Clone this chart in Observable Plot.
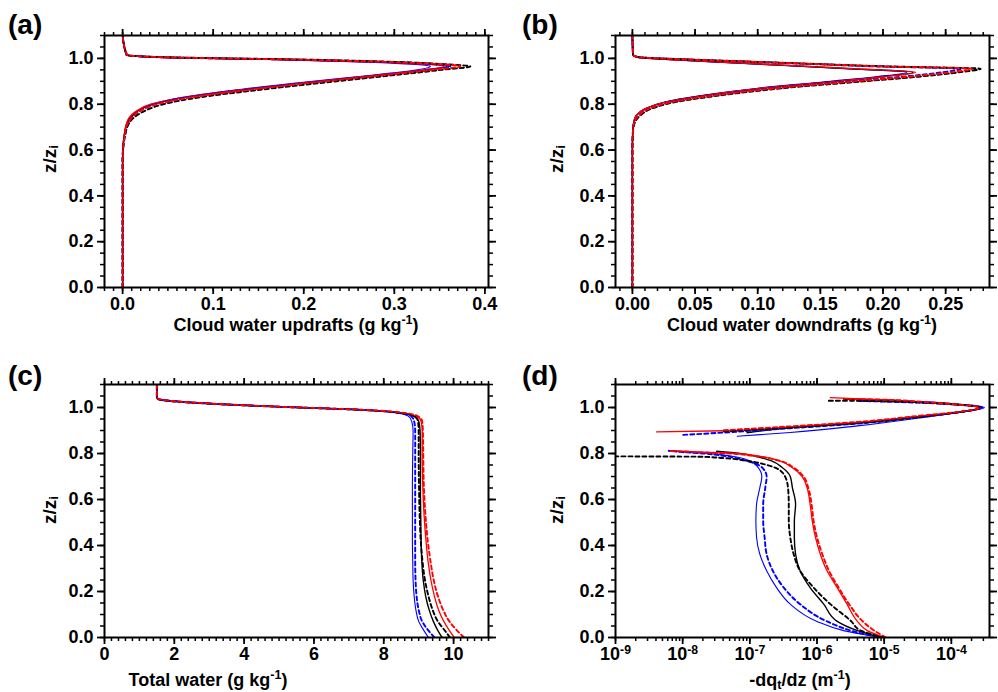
<!DOCTYPE html>
<html><head><meta charset="utf-8">
<script src="https://cdn.jsdelivr.net/npm/d3@7"></script>
<script src="https://cdn.jsdelivr.net/npm/@observablehq/plot@0.6"></script>
<style>
body{margin:0;background:#fff;}
#chart{position:relative;width:998px;height:692px;overflow:hidden;background:#fff;font-family:"Liberation Sans",Arial,Helvetica,sans-serif;font-weight:bold;color:#000;}
#chart svg{position:absolute;left:0;top:0;}
.lbl{position:absolute;white-space:nowrap;font-weight:bold;line-height:1;}
.xl{font-size:18px;transform:translateX(-50%);}
.yl{font-size:19px;transform:translate(-50%,-50%) rotate(-90deg);}
.pl{font-size:28px;}
sup,sub{font-size:70%;line-height:0;}
sup{vertical-align:0.55em;}
sub{vertical-align:-0.2em;}
</style></head>
<body><div id="chart"></div>
<script>
// ---------- Panel (a): cloud water updrafts ----------
const zA = [0, 0.55, 0.62, 0.67, 0.71, 0.74, 0.77, 0.80, 0.83, 0.86, 0.89, 0.92, 0.95, 0.965, 0.975, 0.985, 0.995, 1.005, 1.015, 1.1];
const aBlackSolid = [0, 0, 0.0005, 0.002, 0.004, 0.008, 0.016, 0.033, 0.07, 0.126, 0.193, 0.266, 0.335, 0.358, 0.335, 0.275, 0.175, 0.04, 0.004, 0];
const aBlackDash  = [0, 0, 0.001, 0.003, 0.006, 0.012, 0.024, 0.045, 0.085, 0.145, 0.212, 0.283, 0.352, 0.384, 0.355, 0.30, 0.2, 0.05, 0.005, 0];
const aRedSolid   = [0, 0, 0.0005, 0.002, 0.004, 0.007, 0.015, 0.031, 0.068, 0.124, 0.19, 0.263, 0.332, 0.355, 0.33, 0.27, 0.17, 0.035, 0.004, 0];
const aRedDash    = [0, 0, 0.0008, 0.0025, 0.005, 0.01, 0.019, 0.038, 0.076, 0.134, 0.2, 0.272, 0.342, 0.373, 0.35, 0.29, 0.19, 0.045, 0.005, 0];
const aBlueSolid  = [0, 0, 0.0005, 0.002, 0.005, 0.009, 0.017, 0.032, 0.066, 0.12, 0.186, 0.258, 0.325, 0.34, 0.318, 0.262, 0.165, 0.035, 0.004, 0];
const aBlueDash   = [0, 0, 0.0008, 0.003, 0.006, 0.01, 0.019, 0.036, 0.072, 0.13, 0.196, 0.27, 0.34, 0.362, 0.345, 0.285, 0.185, 0.045, 0.005, 0];

// ---------- Panel (b): cloud water downdrafts ----------
const zB = [0, 0.6, 0.68, 0.72, 0.75, 0.78, 0.81, 0.84, 0.87, 0.90, 0.92, 0.94, 0.955, 0.965, 0.975, 0.985, 0.995, 1.005, 1.015, 1.1];
const bBlackSolid = [0, 0, 0.0002, 0.001, 0.003, 0.01, 0.027, 0.06, 0.104, 0.163, 0.199, 0.224, 0.175, 0.14, 0.102, 0.065, 0.029, 0.004, 0.0003, 0];
const bBlackDash  = [0, 0, 0.0005, 0.002, 0.006, 0.015, 0.035, 0.072, 0.12, 0.185, 0.228, 0.262, 0.278, 0.205, 0.152, 0.1, 0.047, 0.006, 0.0005, 0];
const bRedSolid   = [0, 0, 0.0002, 0.001, 0.003, 0.01, 0.027, 0.06, 0.103, 0.163, 0.2, 0.226, 0.175, 0.14, 0.103, 0.066, 0.03, 0.004, 0.0003, 0];
const bRedDash    = [0, 0, 0.0004, 0.0015, 0.005, 0.013, 0.032, 0.068, 0.115, 0.178, 0.22, 0.255, 0.271, 0.2, 0.148, 0.097, 0.045, 0.006, 0.0005, 0];
const bBlueSolid  = [0, 0, 0.0002, 0.001, 0.003, 0.01, 0.026, 0.058, 0.1, 0.158, 0.194, 0.219, 0.17, 0.136, 0.1, 0.064, 0.029, 0.004, 0.0003, 0];
const bBlueDash   = [0, 0, 0.0004, 0.0015, 0.005, 0.013, 0.031, 0.066, 0.112, 0.174, 0.215, 0.248, 0.262, 0.195, 0.145, 0.095, 0.044, 0.006, 0.0005, 0];

// ---------- Panel (c): total water ----------
const zC = [0, 0.03, 0.07, 0.12, 0.18, 0.25, 0.33, 0.42, 0.52, 0.65, 0.8, 0.9, 0.94, 0.96, 0.975, 0.99, 1.0, 1.01, 1.025, 1.037, 1.045, 1.1];
const cBlackSolid = [9.67, 9.55, 9.42, 9.3, 9.2, 9.13, 9.09, 9.07, 9.06, 9.05, 9.05, 9.04, 9.0, 8.88, 8.55, 7.4, 5.6, 4.0, 2.2, 1.55, 1.5, 1.5];
const cBlackDash  = [9.9, 9.75, 9.55, 9.4, 9.28, 9.18, 9.11, 9.06, 9.03, 9.01, 9.0, 9.0, 8.98, 8.9, 8.55, 7.3, 5.5, 3.9, 2.1, 1.52, 1.5, 1.5];
const cRedSolid   = [10.02, 9.88, 9.72, 9.57, 9.45, 9.35, 9.27, 9.21, 9.16, 9.12, 9.1, 9.1, 9.07, 8.95, 8.6, 7.4, 5.6, 4.0, 2.2, 1.55, 1.5, 1.5];
const cRedDash    = [10.3, 10.1, 9.88, 9.7, 9.55, 9.43, 9.34, 9.26, 9.2, 9.15, 9.13, 9.12, 9.1, 9.0, 8.65, 7.4, 5.6, 4.0, 2.2, 1.55, 1.5, 1.5];
const cBlueSolid  = [9.28, 9.15, 9.0, 8.92, 8.87, 8.84, 8.83, 8.82, 8.82, 8.82, 8.83, 8.84, 8.8, 8.72, 8.45, 7.4, 5.6, 4.0, 2.2, 1.55, 1.5, 1.5];
const cBlueDash   = [9.45, 9.28, 9.1, 9.0, 8.94, 8.91, 8.9, 8.9, 8.9, 8.9, 8.9, 8.9, 8.87, 8.8, 8.5, 7.35, 5.55, 3.95, 2.15, 1.52, 1.5, 1.5];

// ---------- Panel (d): -dq_t/dz, pairs [z/zi, value] ----------
const dBlackSolidLow = [[0,8.9e-6],[0.03,4.0e-6],[0.07,2.0e-6],[0.145,1.26e-6],[0.217,7.9e-7],[0.29,5.6e-7],[0.362,4.8e-7],[0.435,4.6e-7],[0.507,4.6e-7],[0.58,4.8e-7],[0.652,4.3e-7],[0.70,4.0e-7],[0.74,3.0e-7],[0.768,2.1e-7],[0.79,1.12e-7],[0.80,7.1e-8],[0.81,3.2e-8]];
const dBlackDashLow  = [[0,1.0e-5],[0.015,6.3e-6],[0.03,4.5e-6],[0.072,3.2e-6],[0.145,1.58e-6],[0.217,8.9e-7],[0.29,5.6e-7],[0.362,4.5e-7],[0.435,4.0e-7],[0.507,3.8e-7],[0.58,3.8e-7],[0.652,3.7e-7],[0.71,3.2e-7],[0.746,2.0e-7],[0.768,9.1e-8],[0.78,4.1e-8],[0.786,1.8e-8],[0.7875,1.0e-9]];
const dRedSolidLow   = [[0,1.0e-5],[0.03,5.6e-6],[0.07,4.0e-6],[0.145,2.8e-6],[0.217,2.0e-6],[0.29,1.41e-6],[0.362,1.12e-6],[0.435,9.5e-7],[0.507,8.5e-7],[0.58,7.9e-7],[0.652,7.1e-7],[0.70,6.0e-7],[0.74,4.2e-7],[0.768,2.8e-7],[0.79,1.26e-7],[0.80,6.5e-8],[0.806,2.0e-8],[0.812,6.2e-9]];
const dRedDashLow    = [[0,1.07e-5],[0.03,7.1e-6],[0.07,4.8e-6],[0.145,3.0e-6],[0.217,2.1e-6],[0.29,1.51e-6],[0.362,1.2e-6],[0.435,1.0e-6],[0.507,8.9e-7],[0.58,8.3e-7],[0.652,7.4e-7],[0.70,6.3e-7],[0.74,4.4e-7],[0.768,2.8e-7],[0.79,1.12e-7],[0.80,5.0e-8],[0.806,1.6e-8],[0.812,6.3e-9]];
const dBlueSolidLow  = [[0,8.9e-6],[0.015,4.5e-6],[0.03,2.5e-6],[0.07,1.0e-6],[0.145,4.0e-7],[0.217,2.5e-7],[0.29,1.78e-7],[0.362,1.41e-7],[0.435,1.26e-7],[0.507,1.23e-7],[0.58,1.26e-7],[0.652,1.41e-7],[0.70,1.51e-7],[0.74,1.32e-7],[0.768,1.0e-7],[0.79,5.0e-8],[0.80,2.5e-8],[0.806,1.12e-8],[0.812,6.2e-9]];
const dBlueDashLow   = [[0,1.0e-5],[0.015,5.0e-6],[0.03,3.2e-6],[0.07,1.41e-6],[0.145,5.6e-7],[0.217,3.2e-7],[0.29,2.2e-7],[0.362,1.78e-7],[0.435,1.66e-7],[0.507,1.58e-7],[0.58,1.58e-7],[0.652,1.7e-7],[0.70,1.78e-7],[0.74,1.51e-7],[0.768,8.9e-8],[0.79,4.0e-8],[0.80,2.0e-8],[0.806,1.0e-8],[0.812,6.2e-9]];
const dBlackSolidUp  = [[0.89,9.1e-8],[0.912,4.0e-7],[0.933,4.0e-6],[0.963,3.9e-5],[0.978,1.23e-4],[1.0,2.8e-4],[1.012,1.23e-4],[1.022,3.9e-5],[1.032,1.26e-5],[1.036,2.5e-6]];
const dBlackDashUp   = [[0.896,4.1e-8],[0.913,4.0e-7],[0.932,4.0e-6],[0.961,3.9e-5],[0.978,1.23e-4],[1.0,2.7e-4],[1.013,1.23e-4],[1.022,3.9e-5],[1.029,4.0e-6],[1.0295,1.4e-6]];
const dRedSolidUp    = [[0.894,4.1e-9],[0.899,4.1e-8],[0.916,4.0e-7],[0.935,4.0e-6],[0.964,3.9e-5],[0.978,1.23e-4],[1.0,2.75e-4],[1.012,1.23e-4],[1.022,3.9e-5],[1.032,1.26e-5],[1.043,1.58e-6]];
const dRedDashUp     = [[0.901,4.1e-8],[0.918,4.0e-7],[0.937,4.0e-6],[0.966,3.9e-5],[0.98,1.23e-4],[1.0,2.6e-4],[1.013,1.23e-4],[1.024,3.9e-5],[1.034,1.0e-5],[1.038,2.5e-6]];
const dBlueSolidUp   = [[0.875,6.5e-8],[0.891,4.0e-7],[0.92,4.0e-6],[0.957,3.9e-5],[0.978,1.23e-4],[1.0,3.1e-4],[1.014,1.23e-4],[1.025,3.9e-5],[1.029,4.0e-6]];
const dBlueDashUp    = [[0.881,1.02e-8],[0.891,4.1e-8],[0.91,4.0e-7],[0.93,4.0e-6],[0.961,3.9e-5],[0.98,1.23e-4],[1.0,2.9e-4],[1.013,1.23e-4],[1.02,3.9e-5],[1.029,4.0e-6]];

// ---------- Tick values ----------
const yMajor = [0, 0.2, 0.4, 0.6, 0.8, 1.0];
const aXMajor = [0, 0.1, 0.2, 0.3, 0.4];
const bXMajor = [0, 0.05, 0.10, 0.15, 0.20, 0.25];
const cXMajor = [0, 2, 4, 6, 8, 10];
const dXMajor = [1e-9, 1e-8, 1e-7, 1e-6, 1e-5, 1e-4];

// ---------- Styles (separate from data) ----------
const styles = {
  blueSolid: {stroke: "#0000ff", strokeWidth: 1.1},
  blackSolid: {stroke: "#000000", strokeWidth: 1.4},
  redSolid: {stroke: "#ff0000", strokeWidth: 1.3},
  blueDash: {stroke: "#0000ff", strokeWidth: 1.9, strokeDasharray: "4,3"},
  blackDash: {stroke: "#000000", strokeWidth: 1.9, strokeDasharray: "4,3"},
  redDash: {stroke: "#ff0000", strokeWidth: 1.9, strokeDasharray: "4,3"}
};
const order = ["blueSolid", "blackSolid", "redSolid", "blueDash", "blackDash", "redDash"];

const W = 998, H = 692;
const yMinor = d3.range(0, 23).map(k => k * 0.05);
const aXMinor = d3.range(-2, 41).map(k => k / 100);
const bXMinor = d3.range(-1, 29).map(k => k / 100);
const cXMinor = d3.range(0, 56).map(k => k / 5);
const dXMinor = [];
for (let e = -9; e <= -4; e++) for (let m = 1; m <= 9; m++) { const v = m * Math.pow(10, e); if (v <= 3.7e-4) dXMinor.push(v); }

const blank = () => "";

function panel({frame: [l, t, r, b], xType, xDomain, xMajor, xMinor, xFormat, series}) {
  const marks = [];
  for (const anchor of ["bottom", "top"]) {
    marks.push(Plot.axisX(xMinor, {anchor, tickSize: 4, strokeWidth: 1.5, tickFormat: blank, label: null}));
    marks.push(Plot.axisX(xMajor, {anchor, tickSize: 7, strokeWidth: 1.8, tickPadding: 3, tickFormat: anchor === "bottom" ? xFormat : blank, label: null}));
  }
  for (const anchor of ["left", "right"]) {
    marks.push(Plot.axisY(yMinor, {anchor, tickSize: 4, strokeWidth: 1.5, tickFormat: blank, label: null}));
    marks.push(Plot.axisY(yMajor, {anchor, tickSize: 7, strokeWidth: 1.8, tickPadding: 4, tickFormat: anchor === "left" ? d3.format(".1f") : blank, label: null}));
  }
  for (const key of order) {
    for (const rows of series[key]) {
      marks.push(Plot.line(rows, {x: "x", y: "z", curve: "monotone-y", clip: true, ...styles[key]}));
    }
  }
  marks.push(Plot.frame({stroke: "black", strokeWidth: 2}));
  const svg = Plot.plot({
    width: W, height: H,
    marginLeft: l, marginTop: t, marginRight: W - r, marginBottom: H - b,
    x: {type: xType, domain: xDomain},
    y: {domain: [0, 1.1]},
    style: {background: "none", fontFamily: "'Liberation Sans', Arial, sans-serif", fontSize: "18px", fontWeight: "bold", color: "black", overflow: "visible"},
    marks
  });
  // superscripts for power-of-ten tick labels
  d3.select(svg).selectAll("text").each(function () {
    const m = /^10\^(-?\d+)$/.exec(this.textContent);
    if (m) {
      this.textContent = "10";
      d3.select(this).append("tspan").attr("dy", "-0.5em").attr("font-size", "0.68em").text(m[1]);
    }
  });
  svg.style.position = "absolute"; svg.style.left = "0px"; svg.style.top = "0px";
  svg.style.maxWidth = "none";
  return svg;
}

const grid = (zs, xs) => zs.map((z, i) => ({z, x: xs[i]}));
const pairs = arr => arr.map(([z, x]) => ({z, x}));

const chart = document.getElementById("chart");

chart.appendChild(panel({
  frame: [104, 35, 488, 287], xType: "linear", xDomain: [-0.02, 0.404],
  xMajor: aXMajor, xMinor: aXMinor, xFormat: d3.format(".1f"),
  series: {
    blueSolid: [grid(zA, aBlueSolid)], blackSolid: [grid(zA, aBlackSolid)], redSolid: [grid(zA, aRedSolid)],
    blueDash: [grid(zA, aBlueDash)], blackDash: [grid(zA, aBlackDash)], redDash: [grid(zA, aRedDash)]
  }
}));

chart.appendChild(panel({
  frame: [615, 35, 989, 287], xType: "linear", xDomain: [-0.0135, 0.285],
  xMajor: bXMajor, xMinor: bXMinor, xFormat: d3.format(".2f"),
  series: {
    blueSolid: [grid(zB, bBlueSolid)], blackSolid: [grid(zB, bBlackSolid)], redSolid: [grid(zB, bRedSolid)],
    blueDash: [grid(zB, bBlueDash)], blackDash: [grid(zB, bBlackDash)], redDash: [grid(zB, bRedDash)]
  }
}));

chart.appendChild(panel({
  frame: [104, 384, 488, 637], xType: "linear", xDomain: [0, 11],
  xMajor: cXMajor, xMinor: cXMinor, xFormat: d3.format("d"),
  series: {
    blueSolid: [grid(zC, cBlueSolid)], blackSolid: [grid(zC, cBlackSolid)], redSolid: [grid(zC, cRedSolid)],
    blueDash: [grid(zC, cBlueDash)], blackDash: [grid(zC, cBlackDash)], redDash: [grid(zC, cRedDash)]
  }
}));

chart.appendChild(panel({
  frame: [615, 384, 989, 637], xType: "log", xDomain: [1e-9, 3.7e-4],
  xMajor: dXMajor, xMinor: dXMinor, xFormat: d => "10^" + Math.round(Math.log10(d)),
  series: {
    blueSolid: [pairs(dBlueSolidLow), pairs(dBlueSolidUp)],
    blackSolid: [pairs(dBlackSolidLow), pairs(dBlackSolidUp)],
    redSolid: [pairs(dRedSolidLow), pairs(dRedSolidUp)],
    blueDash: [pairs(dBlueDashLow), pairs(dBlueDashUp)],
    blackDash: [pairs(dBlackDashLow), pairs(dBlackDashUp)],
    redDash: [pairs(dRedDashLow), pairs(dRedDashUp)]
  }
}));

// ---------- Text labels ----------
const labels = [
  {cls: "pl", x: 8, y: 11, html: "(a)"},
  {cls: "pl", x: 522, y: 11, html: "(b)"},
  {cls: "pl", x: 8, y: 362, html: "(c)"},
  {cls: "pl", x: 522, y: 362, html: "(d)"},
  {cls: "yl", x: 49, y: 159, html: "z/z<sub>i</sub>"},
  {cls: "yl", x: 556, y: 159, html: "z/z<sub>i</sub>"},
  {cls: "yl", x: 49, y: 510, html: "z/z<sub>i</sub>"},
  {cls: "yl", x: 556, y: 510, html: "z/z<sub>i</sub>"},
  {cls: "xl", x: 296, y: 316, html: "Cloud water updrafts (g kg<sup>-1</sup>)"},
  {cls: "xl", x: 802, y: 316, html: "Cloud water downdrafts (g kg<sup>-1</sup>)"},
  {cls: "xl", x: 208, y: 671, html: "Total water (g kg<sup>-1</sup>)"},
  {cls: "xl", x: 800, y: 671, html: "-dq<sub>t</sub>/dz (m<sup>-1</sup>)"}
];
for (const d of labels) {
  const el = document.createElement("div");
  el.className = "lbl " + d.cls;
  el.style.left = d.x + "px";
  el.style.top = d.y + "px";
  el.innerHTML = d.html;
  chart.appendChild(el);
}
</script>
</body></html>
